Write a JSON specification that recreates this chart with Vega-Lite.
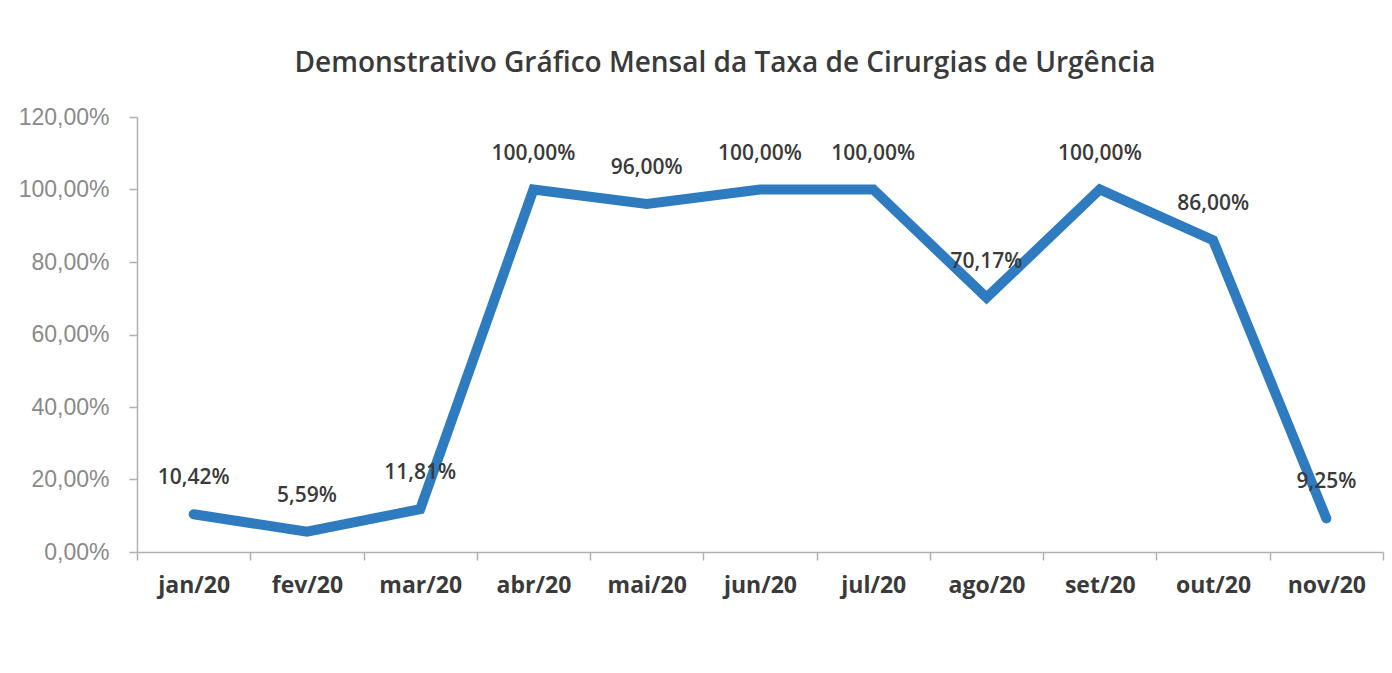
{
  "$schema": "https://vega.github.io/schema/vega-lite/v6.json",
  "width": 1246,
  "height": 435,
  "autosize": "none",
  "padding": {"left": 137, "top": 117, "right": 9, "bottom": 121},
  "background": "white",
  "config": {
    "locale": {"number": {"decimal": ",", "thousands": ".", "grouping": [3], "currency": ["R$", ""]}},
    "view": {"stroke": null},
    "font": "Open Sans"
  },
  "title": {
    "text": "Demonstrativo Gráfico Mensal da Taxa de Cirurgias de Urgência",
    "fontSize": 28,
    "fontWeight": 600,
    "color": "#3a3a3a",
    "font": "Open Sans",
    "offset": 28,
    "dx": -35
  },
  "data": {
    "values": [
      {"mes": "jan/20", "taxa": 0.1042},
      {"mes": "fev/20", "taxa": 0.0559},
      {"mes": "mar/20", "taxa": 0.1181},
      {"mes": "abr/20", "taxa": 1.0},
      {"mes": "mai/20", "taxa": 0.96},
      {"mes": "jun/20", "taxa": 1.0},
      {"mes": "jul/20", "taxa": 1.0},
      {"mes": "ago/20", "taxa": 0.7017},
      {"mes": "set/20", "taxa": 1.0},
      {"mes": "out/20", "taxa": 0.86},
      {"mes": "nov/20", "taxa": 0.0925}
    ]
  },
  "encoding": {
    "x": {
      "field": "mes",
      "type": "ordinal",
      "sort": null,
      "scale": {"paddingInner": 0, "paddingOuter": 0},
      "axis": {
        "title": null,
        "labelAngle": 0,
        "labelFontSize": 23,
        "labelFontWeight": "bold",
        "labelColor": "#3a3a3a",
        "labelFont": "Open Sans",
        "labelPadding": 14,
        "tickBand": "extent",
        "tickSize": 8,
        "tickColor": "#b0b0b0",
        "domainColor": "#b0b0b0",
        "domainWidth": 1.5,
        "tickWidth": 1.5
      }
    },
    "y": {
      "field": "taxa",
      "type": "quantitative",
      "scale": {"domain": [0, 1.2]},
      "axis": {
        "title": null,
        "values": [0, 0.2, 0.4, 0.6, 0.8, 1.0, 1.2],
        "format": ".2%",
        "grid": false,
        "labelFontSize": 23,
        "labelColor": "#8a8a8a",
        "labelFont": "Liberation Sans",
        "labelPadding": 20,
        "tickSize": 8,
        "tickColor": "#b0b0b0",
        "domainColor": "#b0b0b0",
        "domainWidth": 1.5,
        "tickWidth": 1.5
      }
    }
  },
  "layer": [
    {
      "mark": {"type": "line", "color": "#2e7bbf", "strokeWidth": 10, "strokeJoin": "miter", "strokeCap": "round"}
    },
    {
      "mark": {"type": "text", "dy": -36, "fontSize": 21, "fontWeight": 600, "color": "#3a3a3a", "font": "Open Sans"},
      "encoding": {
        "text": {"field": "taxa", "type": "quantitative", "format": ".2%"}
      }
    }
  ]
}
